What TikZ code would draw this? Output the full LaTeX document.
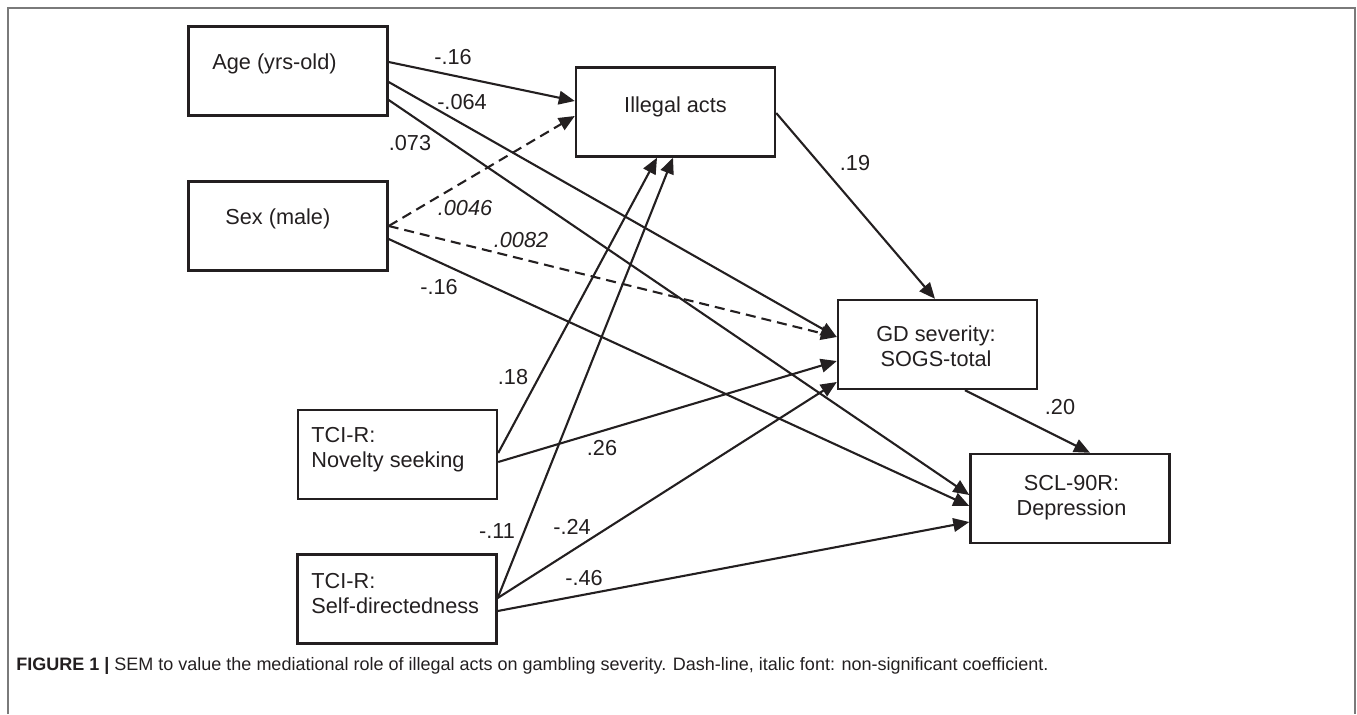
\documentclass[tikz,border=0pt]{standalone}
\usepackage{fontspec}
\setmainfont{Liberation Sans}
\usetikzlibrary{arrows.meta,calc}
\definecolor{ink}{HTML}{231F20}
\definecolor{framegray}{HTML}{7A7A7A}
\begin{document}
\begin{tikzpicture}[x=0.5pt,y=-0.5pt,
  box/.style={draw=ink,line width=1.2pt,inner sep=0pt,minimum width=99.5pt,minimum height=44.5pt},
  txt/.style={text=ink,inner sep=0pt,font=\fontsize{10.85}{12.5}\selectfont},
  coef/.style={txt},
  nscoef/.style={txt,font=\fontsize{10.85}{12.5}\selectfont\itshape},
  arr/.style={draw=ink,line width=1.05pt,-{Triangle[length=8pt,width=6.8pt]}},
  nsarr/.style={arr,dash pattern=on 5pt off 3pt}]
\useasboundingbox (0,0) rectangle (1357,714);
\draw[framegray,line width=0.6pt] (8,714) -- (8,8) -- (1355,8) -- (1355,714);

% boxes
\node[box] (age)  at (288,71)      {};
\node[box] (sex)  at (288,226)     {};
\node[box] (ill)  at (675.5,112)   {};
\node[box] (gd)   at (937.5,344.5) {};
\node[box] (scl)  at (1070,498.5)  {};
\node[box] (nov)  at (397.5,454.5) {};
\node[box] (self) at (397,599)     {};

% box texts
\node[txt,anchor=base west] (agetxt) at (212,69) {Age (yrs-old)};
\node[txt,anchor=base west] (sextxt) at (225,224) {Sex (male)};
\node[txt,anchor=base] (illtxt) at (675.5,112) {Illegal acts};
\node[txt,align=center] (gdtxt) at (936,346.6) {GD severity:\\SOGS-total};
\node[txt,align=center] (scltxt) at (1071.5,497.9) {SCL-90R:\\Depression};
\node[txt,align=left,anchor=west] (novtxt) at (311,449.5) {TCI-R:\\Novelty seeking};
\node[txt,align=left,anchor=west] (selftxt) at (311,593.3) {TCI-R:\\Self-directedness};

% connectors
\draw[arr]   ($(age.east)+(0,-9)$)   -- ($(ill.west)+(0,-11)$);
\draw[arr]   ($(age.east)+(0,11)$)   -- ($(gd.west)+(0,-7.5)$);
\draw[arr]   ($(age.east)+(0,29)$)   -- ($(scl.west)+(0,-3.5)$);
\draw[nsarr] ($(sex.east)+(0,0)$)    -- ($(ill.west)+(0,4)$);
\draw[nsarr] ($(sex.east)+(0,0)$)    -- ($(gd.west)+(0,-7.5)$);
\draw[arr]   ($(sex.east)+(0,13)$)   -- ($(scl.west)+(0,7.5)$);
\draw[arr]   ($(nov.east)+(0,-1.5)$) -- ($(ill.south)+(-18.5,0)$);
\draw[arr]   ($(nov.east)+(0,7.5)$)  -- ($(gd.west)+(0,16.5)$);
\draw[arr]   ($(self.east)+(0,-1)$)  -- ($(ill.south)+(-2.5,0)$);
\draw[arr]   ($(self.east)+(0,-1)$)  -- ($(gd.west)+(0,37.5)$);
\draw[arr]   ($(self.east)+(0,12)$)  -- ($(scl.west)+(0,23.5)$);
\draw[arr]   ($(ill.east)+(0,1)$)    -- ($(gd.north)+(-2.5,0)$);
\draw[arr]   ($(gd.south)+(27.5,0)$) -- ($(scl.north)+(20,0)$);

% coefficients
\node[coef]   (c1)  at (453,57)  {-.16};
\node[coef]   (c2)  at (462,102) {-.064};
\node[coef]   (c3)  at (410,143) {.073};
\node[nscoef] (c4)  at (465,208) {.0046};
\node[nscoef] (c5)  at (521,240) {.0082};
\node[coef]   (c6)  at (439,287) {-.16};
\node[coef]   (c7)  at (855,163) {.19};
\node[coef]   (c8)  at (1060,407) {.20};
\node[coef]   (c9)  at (513,377) {.18};
\node[coef]   (c10) at (602,448) {.26};
\node[coef]   (c11) at (497,531) {-.11};
\node[coef]   (c12) at (572,527) {-.24};
\node[coef]   (c13) at (584,578) {-.46};

% caption
\node[txt,anchor=west,font=\fontsize{9}{10.8}\selectfont] (cap) at (16,666)
  {\textbf{FIGURE 1 |} SEM to value the mediational role of illegal acts on gambling severity. Dash-line, italic font: non-significant coefficient.};
\end{tikzpicture}
\end{document}
